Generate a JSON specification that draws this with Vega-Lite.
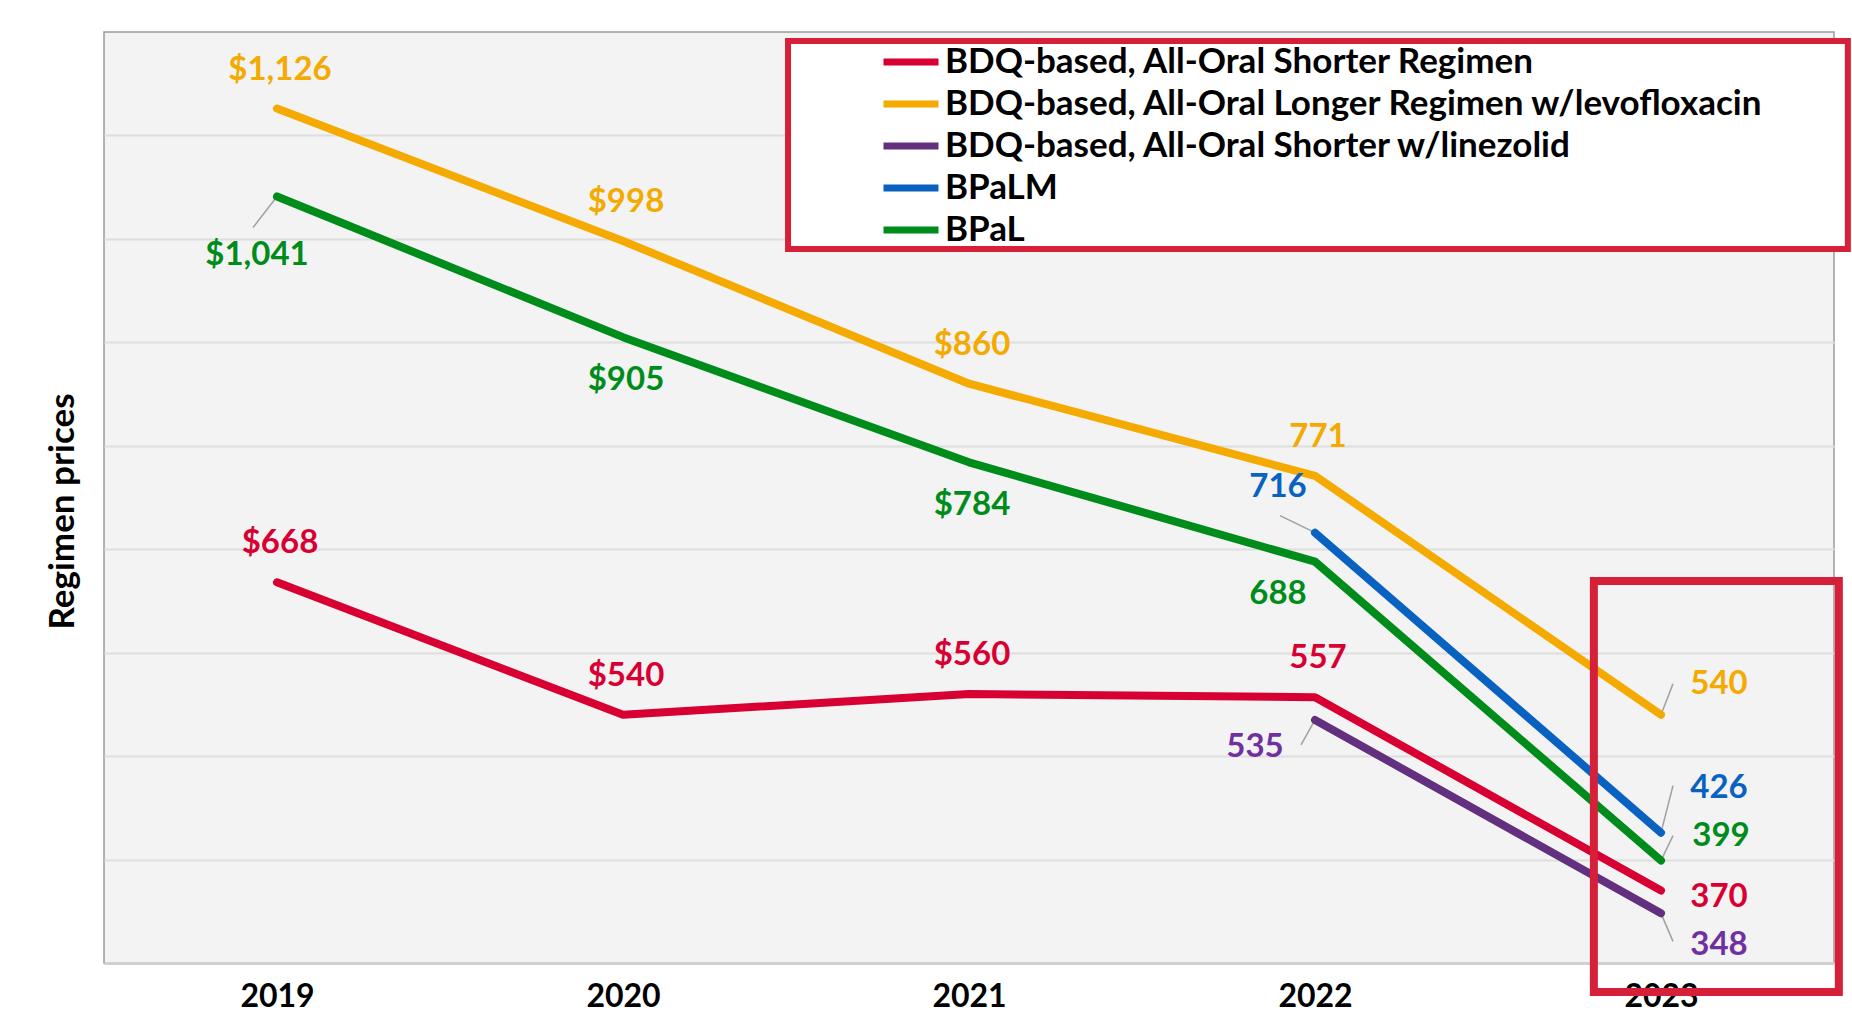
{
  "$schema": "https://vega.github.io/schema/vega-lite/v6.json",
  "autosize": {"type": "none"},
  "width": 1730,
  "height": 931,
  "padding": {"left": 104, "top": 32, "right": 18, "bottom": 50},
  "background": "white",
  "config": {
    "view": {"fill": "#f3f3f3", "stroke": "#9a9a9a", "strokeWidth": 1.5},
    "font": "Lato, sans-serif"
  },
  "datasets": {
    "prices": [
      {"series": "BDQ-based, All-Oral Shorter Regimen", "year": 2019, "price": 668, "label": "$668"},
      {"series": "BDQ-based, All-Oral Shorter Regimen", "year": 2020, "price": 540, "label": "$540"},
      {"series": "BDQ-based, All-Oral Shorter Regimen", "year": 2021, "price": 560, "label": "$560"},
      {"series": "BDQ-based, All-Oral Shorter Regimen", "year": 2022, "price": 557, "label": "557"},
      {"series": "BDQ-based, All-Oral Shorter Regimen", "year": 2023, "price": 370, "label": "370"},
      {"series": "BDQ-based, All-Oral Longer Regimen w/levofloxacin", "year": 2019, "price": 1126, "label": "$1,126"},
      {"series": "BDQ-based, All-Oral Longer Regimen w/levofloxacin", "year": 2020, "price": 998, "label": "$998"},
      {"series": "BDQ-based, All-Oral Longer Regimen w/levofloxacin", "year": 2021, "price": 860, "label": "$860"},
      {"series": "BDQ-based, All-Oral Longer Regimen w/levofloxacin", "year": 2022, "price": 771, "label": "771"},
      {"series": "BDQ-based, All-Oral Longer Regimen w/levofloxacin", "year": 2023, "price": 540, "label": "540"},
      {"series": "BDQ-based, All-Oral Shorter w/linezolid", "year": 2022, "price": 535, "label": "535"},
      {"series": "BDQ-based, All-Oral Shorter w/linezolid", "year": 2023, "price": 348, "label": "348"},
      {"series": "BPaLM", "year": 2022, "price": 716, "label": "716"},
      {"series": "BPaLM", "year": 2023, "price": 426, "label": "426"},
      {"series": "BPaL", "year": 2019, "price": 1041, "label": "$1,041"},
      {"series": "BPaL", "year": 2020, "price": 905, "label": "$905"},
      {"series": "BPaL", "year": 2021, "price": 784, "label": "$784"},
      {"series": "BPaL", "year": 2022, "price": 688, "label": "688"},
      {"series": "BPaL", "year": 2023, "price": 399, "label": "399"}
    ],
    "boxes": [
      {"kind": "data", "x1": 2022.806, "x2": 2023.514, "y1": 271.9, "y2": 669.3},
      {"kind": "legend", "x1": 2020.477, "x2": 2023.54, "y1": 990.2, "y2": 1191.3}
    ],
    "ticks": [{"year": 2018.5}, {"year": 2020.5}, {"year": 2022.5}]
  },
  "encoding": {
    "x": {
      "field": "year", "type": "quantitative",
      "scale": {"domain": [2018.5, 2023.5], "nice": false, "zero": false},
      "axis": {
        "title": null, "values": [2019, 2020, 2021, 2022, 2023], "format": "d",
        "ticks": false, "tickSize": 0, "grid": false,
        "domainColor": "#d0d0d0", "domainWidth": 3,
        "labelFontSize": 32, "labelFontWeight": "bold", "labelColor": "black",
        "labelPadding": 18, "labelFlush": false
      }
    },
    "y": {
      "field": "price", "type": "quantitative",
      "scale": {"domain": [300, 1200], "nice": false, "zero": false},
      "axis": {
        "title": "Regimen prices", "titleFontSize": 35, "titleFontWeight": "bold", "titleColor": "black",
        "titlePadding": 24, "titleY": 479,
        "values": [400, 500, 600, 700, 800, 900, 1000, 1100],
        "labels": false, "ticks": false, "domain": false,
        "grid": true, "gridColor": "#dedede", "gridWidth": 2
      }
    }
  },
  "layer": [
    {
      "data": {"name": "ticks"},
      "mark": {"type": "rule", "color": "#dadada", "strokeWidth": 2},
      "encoding": {"y": {"datum": 290}, "y2": {"datum": 1200}}
    },
    {
      "data": {"name": "prices"},
      "transform": [{"filter": "datum.series == 'BPaL' && datum.year == 2019"}],
      "mark": {"type": "rule", "color": "#a0a0a0", "strokeWidth": 1.5, "x2Offset": -24, "y2Offset": 31},
      "encoding": {"x2": {"field": "year"}, "y2": {"field": "price"}}
    },
    {
      "data": {"name": "prices"},
      "transform": [{"filter": "datum.series == 'BPaLM' && datum.year == 2022"}],
      "mark": {"type": "rule", "color": "#a0a0a0", "strokeWidth": 1.5, "x2Offset": -35, "y2Offset": -17},
      "encoding": {"x2": {"field": "year"}, "y2": {"field": "price"}}
    },
    {
      "data": {"name": "prices"},
      "transform": [{"filter": "datum.series == 'BDQ-based, All-Oral Shorter w/linezolid' && datum.year == 2022"}],
      "mark": {"type": "rule", "color": "#a0a0a0", "strokeWidth": 1.5, "x2Offset": -14, "y2Offset": 25},
      "encoding": {"x2": {"field": "year"}, "y2": {"field": "price"}}
    },
    {
      "data": {"name": "prices"},
      "transform": [{"filter": "datum.year == 2023 && datum.series == 'BDQ-based, All-Oral Longer Regimen w/levofloxacin'"}],
      "mark": {"type": "rule", "color": "#a0a0a0", "strokeWidth": 1.5, "x2Offset": 12, "y2Offset": -31},
      "encoding": {"x2": {"field": "year"}, "y2": {"field": "price"}}
    },
    {
      "data": {"name": "prices"},
      "transform": [{"filter": "datum.year == 2023 && datum.series == 'BPaLM'"}],
      "mark": {"type": "rule", "color": "#a0a0a0", "strokeWidth": 1.5, "x2Offset": 12, "y2Offset": -47},
      "encoding": {"x2": {"field": "year"}, "y2": {"field": "price"}}
    },
    {
      "data": {"name": "prices"},
      "transform": [{"filter": "datum.year == 2023 && datum.series == 'BPaL'"}],
      "mark": {"type": "rule", "color": "#a0a0a0", "strokeWidth": 1.5, "x2Offset": 12, "y2Offset": -25},
      "encoding": {"x2": {"field": "year"}, "y2": {"field": "price"}}
    },
    {
      "data": {"name": "prices"},
      "transform": [{"filter": "datum.year == 2023 && datum.series == 'BDQ-based, All-Oral Shorter w/linezolid'"}],
      "mark": {"type": "rule", "color": "#a0a0a0", "strokeWidth": 1.5, "x2Offset": 12, "y2Offset": 28},
      "encoding": {"x2": {"field": "year"}, "y2": {"field": "price"}}
    },
    {
      "data": {"name": "prices"},
      "mark": {"type": "line", "strokeWidth": 8, "strokeCap": "round", "strokeJoin": "round"},
      "encoding": {
        "color": {
          "field": "series", "type": "nominal",
          "scale": {
            "domain": ["BDQ-based, All-Oral Shorter Regimen", "BDQ-based, All-Oral Longer Regimen w/levofloxacin", "BDQ-based, All-Oral Shorter w/linezolid", "BPaLM", "BPaL"],
            "range": ["#d80032", "#f4aa00", "#62307f", "#0a62c0", "#008c1a"]
          },
          "legend": {
            "title": null, "orient": "none", "legendX": 776, "legendY": 9,
            "direction": "vertical", "padding": 0,
            "symbolType": "stroke", "symbolSize": 3025, "symbolStrokeWidth": 7,
            "clipHeight": 42,
            "labelFontSize": 35, "labelFontWeight": "bold", "labelColor": "black",
            "labelOffset": 3, "rowPadding": 0, "labelLimit": 1200
          }
        }
      }
    },
    {
      "data": {"name": "prices"},
      "transform": [{"filter": "datum.year <= 2022 && (datum.series == 'BDQ-based, All-Oral Shorter Regimen' || datum.series == 'BDQ-based, All-Oral Longer Regimen w/levofloxacin')"}],
      "mark": {"type": "text", "fontSize": 33, "fontWeight": "bold", "baseline": "middle", "align": "center", "dy": -39, "dx": 3},
      "encoding": {"text": {"field": "label"}, "color": {"field": "series", "type": "nominal", "legend": null}}
    },
    {
      "data": {"name": "prices"},
      "transform": [{"filter": "datum.series == 'BPaL' && (datum.year == 2020 || datum.year == 2021)"}],
      "mark": {"type": "text", "fontSize": 33, "fontWeight": "bold", "baseline": "middle", "align": "center", "dy": 43, "dx": 3},
      "encoding": {"text": {"field": "label"}, "color": {"field": "series", "type": "nominal", "legend": null}}
    },
    {
      "data": {"name": "prices"},
      "transform": [{"filter": "datum.series == 'BPaL' && datum.year == 2019"}],
      "mark": {"type": "text", "fontSize": 33, "fontWeight": "bold", "baseline": "middle", "align": "center", "dy": 59, "dx": -20},
      "encoding": {"text": {"field": "label"}, "color": {"field": "series", "type": "nominal", "legend": null}}
    },
    {
      "data": {"name": "prices"},
      "transform": [{"filter": "datum.series == 'BPaL' && datum.year == 2022"}],
      "mark": {"type": "text", "fontSize": 33, "fontWeight": "bold", "baseline": "middle", "align": "center", "dy": 32, "dx": -37},
      "encoding": {"text": {"field": "label"}, "color": {"field": "series", "type": "nominal", "legend": null}}
    },
    {
      "data": {"name": "prices"},
      "transform": [{"filter": "datum.series == 'BPaLM' && datum.year == 2022"}],
      "mark": {"type": "text", "fontSize": 33, "fontWeight": "bold", "baseline": "middle", "align": "center", "dy": -46, "dx": -37},
      "encoding": {"text": {"field": "label"}, "color": {"field": "series", "type": "nominal", "legend": null}}
    },
    {
      "data": {"name": "prices"},
      "transform": [{"filter": "datum.series == 'BDQ-based, All-Oral Shorter w/linezolid' && datum.year == 2022"}],
      "mark": {"type": "text", "fontSize": 33, "fontWeight": "bold", "baseline": "middle", "align": "center", "dy": 27, "dx": -60, "color": "#7030a0"},
      "encoding": {"text": {"field": "label"}}
    },
    {
      "data": {"name": "prices"},
      "transform": [{"filter": "datum.year == 2023 && datum.series == 'BDQ-based, All-Oral Longer Regimen w/levofloxacin'"}],
      "mark": {"type": "text", "fontSize": 33, "fontWeight": "bold", "baseline": "middle", "align": "center", "dy": -31, "dx": 58},
      "encoding": {"text": {"field": "label"}, "color": {"field": "series", "type": "nominal", "legend": null}}
    },
    {
      "data": {"name": "prices"},
      "transform": [{"filter": "datum.year == 2023 && datum.series == 'BPaLM'"}],
      "mark": {"type": "text", "fontSize": 33, "fontWeight": "bold", "baseline": "middle", "align": "center", "dy": -45, "dx": 58},
      "encoding": {"text": {"field": "label"}, "color": {"field": "series", "type": "nominal", "legend": null}}
    },
    {
      "data": {"name": "prices"},
      "transform": [{"filter": "datum.year == 2023 && datum.series == 'BPaL'"}],
      "mark": {"type": "text", "fontSize": 33, "fontWeight": "bold", "baseline": "middle", "align": "center", "dy": -25, "dx": 60},
      "encoding": {"text": {"field": "label"}, "color": {"field": "series", "type": "nominal", "legend": null}}
    },
    {
      "data": {"name": "prices"},
      "transform": [{"filter": "datum.year == 2023 && datum.series == 'BDQ-based, All-Oral Shorter Regimen'"}],
      "mark": {"type": "text", "fontSize": 33, "fontWeight": "bold", "baseline": "middle", "align": "center", "dy": 6, "dx": 58},
      "encoding": {"text": {"field": "label"}, "color": {"field": "series", "type": "nominal", "legend": null}}
    },
    {
      "data": {"name": "prices"},
      "transform": [{"filter": "datum.year == 2023 && datum.series == 'BDQ-based, All-Oral Shorter w/linezolid'"}],
      "mark": {"type": "text", "fontSize": 33, "fontWeight": "bold", "baseline": "middle", "align": "center", "dy": 32, "dx": 58, "color": "#7030a0"},
      "encoding": {"text": {"field": "label"}}
    },
    {
      "data": {"name": "boxes"},
      "transform": [{"filter": "datum.kind == 'data'"}],
      "mark": {"type": "rect", "fill": null, "fillOpacity": 0, "stroke": "#d6203a", "strokeWidth": 8},
      "encoding": {
        "x": {"field": "x1", "type": "quantitative"},
        "x2": {"field": "x2"},
        "y": {"field": "y1", "type": "quantitative"},
        "y2": {"field": "y2"}
      }
    },
    {
      "data": {"name": "boxes"},
      "transform": [{"filter": "datum.kind == 'legend'"}],
      "mark": {"type": "rect", "fill": "white", "stroke": "#d6203a", "strokeWidth": 6},
      "encoding": {
        "x": {"field": "x1", "type": "quantitative"},
        "x2": {"field": "x2"},
        "y": {"field": "y1", "type": "quantitative"},
        "y2": {"field": "y2"}
      }
    }
  ]
}
